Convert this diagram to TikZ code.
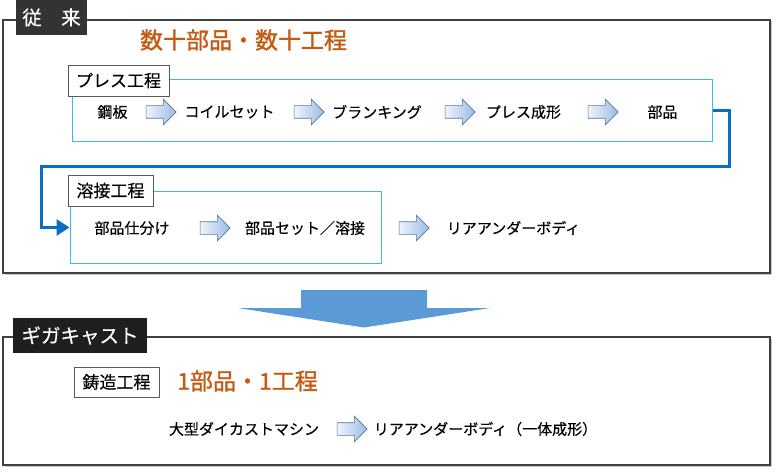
\documentclass[tikz,border=0pt]{standalone}
\usepackage{fontspec}
\setmainfont{Noto Sans CJK JP}[FakeBold=0.35]
\newfontfamily\headfont{Noto Sans CJK JP}[FakeBold=1.2]
\usetikzlibrary{shapes.arrows,arrows.meta,shadings,shadows}
\definecolor{orangett}{HTML}{C55A11}
\definecolor{cyanbox}{HTML}{3DB8F0}
\definecolor{connblue}{HTML}{0A6FC2}
\definecolor{bigblue}{HTML}{5B9BD5}
\definecolor{arrowedge}{HTML}{5A7396}
\definecolor{arrowlight}{HTML}{EEF4FC}
\definecolor{arrowdark}{HTML}{9BBCE6}
\tikzset{
  bigbox/.style={draw=black!75, line width=1.2pt, fill=white, inner sep=0pt,
    drop shadow={shadow xshift=1.5pt, shadow yshift=-1.5pt, fill=black!35, opacity=0.6}},
  procbox/.style={draw=cyanbox, line width=1pt, inner sep=0pt},
  darklabel/.style={fill=black!80, text=white, inner sep=0pt, font=\fontsize{19.5}{22}\selectfont},
  steplabel/.style={draw=black!65, fill=white, line width=0.8pt, inner sep=0pt, font=\fontsize{17}{20}\selectfont},
  rowtext/.style={inner sep=0pt, font=\fontsize{15}{18}\selectfont},
  headline/.style={inner sep=0pt, text=orangett, font=\headfont\fontsize{23}{26}\selectfont},
  blockarrow/.style={single arrow, draw=arrowedge, line width=0.6pt, inner sep=0pt,
    minimum height=30pt, single arrow head extend=6.5pt,
    shading=axis, left color=arrowlight, right color=arrowdark, shading angle=90},
  conn/.style={draw=connblue, line width=3pt, -{Triangle[length=13pt,width=16pt]}},
}
\newcommand{\shaft}{\rule{0pt}{12pt}}
\begin{document}
\begin{tikzpicture}[x=1pt,y=-1pt]
\useasboundingbox (0,0) rectangle (776,473);
% conventional box
\node[bigbox, minimum width=767pt, minimum height=253pt] (conv) at (386.5,146.5) {};
\node[darklabel, minimum width=71pt, minimum height=35pt] (convlabel) at (51.5,17.5) {従　来};
\node[headline] (convhead) at (243.5,40) {数十部品・数十工程};
% press process
\node[procbox, minimum width=640pt, minimum height=62pt] (press) at (392,111) {};
\node[steplabel, minimum width=101pt, minimum height=31pt] (presslabel) at (118.5,80.5) {プレス工程};
\node[rowtext] (p1) at (112.5,112) {鋼板};
\node[blockarrow] (pa1) at (158,112) {\shaft};
\node[rowtext] (p2) at (229.5,112) {コイルセット};
\node[blockarrow] (pa2) at (306,112) {\shaft};
\node[rowtext] (p3) at (377,112) {ブランキング};
\node[blockarrow] (pa3) at (457,112) {\shaft};
\node[rowtext] (p4) at (523.5,112) {プレス成形};
\node[blockarrow] (pa4) at (600,112) {\shaft};
\node[rowtext] (p5) at (662.5,112) {部品};
% welding process
\node[procbox, minimum width=311pt, minimum height=71pt] (weld) at (225.5,227.5) {};
\node[steplabel, minimum width=85pt, minimum height=31pt] (weldlabel) at (110.5,190.5) {溶接工程};
\node[rowtext] (w1) at (132,228) {部品仕分け};
\node[blockarrow] (wa1) at (212,228) {\shaft};
\node[rowtext] (w2) at (305,228) {部品セット／溶接};
\node[blockarrow] (wa2) at (411,228) {\shaft};
\node[rowtext] (w3) at (513.5,228) {リアアンダーボディ};
% connector
\coordinate (c1) at (729,167);
\coordinate (c2) at (41,167);
\draw[conn] (press.east) -| (c1) -- (c2) |- (weld.west);
% big down arrow
\fill[bigblue] (301,290) -- (427,290) -- (427,308) -- (490,308) -- (364,327.5) -- (238,308) -- (301,308) -- cycle;
% gigacast box
\node[bigbox, minimum width=767pt, minimum height=128pt] (giga) at (386.5,401) {};
\node[darklabel, fill=black!88, minimum width=134pt, minimum height=35pt] (gigalabel) at (80,335.5) {ギガキャスト};
\node[steplabel, minimum width=85pt, minimum height=30pt] (castlabel) at (116.5,382) {鋳造工程};
\node[headline] (gigahead) at (247.5,381) {1部品・1工程};
\node[rowtext] (g1) at (244,429) {大型ダイカストマシン};
\node[blockarrow] (ga1) at (349,429) {\shaft};
\node[rowtext] (g2) at (485.5,429) {リアアンダーボディ（一体成形）};
\end{tikzpicture}
\end{document}
